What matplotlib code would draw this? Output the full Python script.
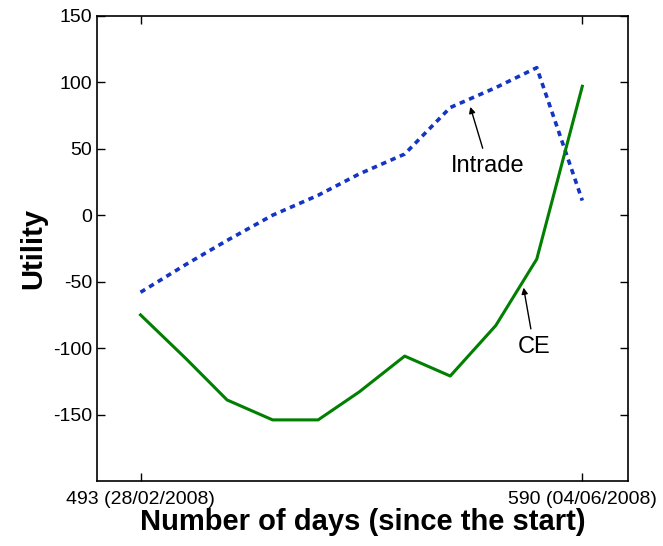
import matplotlib
matplotlib.use('Agg')
import matplotlib.pyplot as plt

plt.rcParams['font.family'] = ['Liberation Sans', 'DejaVu Sans']
plt.rcParams['axes.unicode_minus'] = False

# Day index of each sample
days = [493, 503, 512, 522, 532, 541, 551, 561, 571, 580, 590]
# Utility of the two strategies
intrade = [-58, -37, -19, 0, 15, 31, 46, 81, 96, 111, 11]
ce = [-75, -108, -139, -154, -154, -133, -106, -121, -83, -33, 97]

xtick_pos = [493, 590]
xtick_labels = ['493 (28/02/2008)', '590 (04/06/2008)']
ytick_pos = [-150, -100, -50, 0, 50, 100, 150]

fig = plt.figure(figsize=(6.63, 5.46), dpi=100)
ax = fig.add_axes([0.146, 0.119, 0.801, 0.852])

ax.plot(days, intrade, color='#1434c4', linestyle=(0, (1.5, 1.3)), linewidth=2.6)
ax.plot(days, ce, color='#007f00', linewidth=2.2)

ax.set_xlim(483.4, 600)
ax.set_ylim(-200, 150)
ax.set_xticks(xtick_pos)
ax.set_xticklabels(xtick_labels)
ax.set_yticks(ytick_pos)
ax.tick_params(direction='in', top=True, right=True, length=6,
               labelsize=14, width=1)
ax.tick_params(axis='x', pad=7)
for s in ax.spines.values():
    s.set_linewidth(1.2)

ax.set_xlabel('Number of days (since the start)', fontsize=21,
              fontweight='bold', labelpad=0)
ax.set_ylabel('Utility', fontsize=21, fontweight='bold', labelpad=4)

# Labels for each curve
ax.annotate('Intrade', xy=(565.4, 81.5), xytext=(569.3, 37),
            fontsize=17, ha='center', va='center',
            arrowprops=dict(arrowstyle='-|>', color='black', lw=1,
                            mutation_scale=9, shrinkB=0, shrinkA=3))
ax.annotate('CE', xy=(577.1, -54.5), xytext=(579.4, -99),
            fontsize=17, ha='center', va='center',
            arrowprops=dict(arrowstyle='-|>', color='black', lw=1,
                            mutation_scale=9, shrinkB=0, shrinkA=3))

fig.savefig('out.png', dpi=100)
